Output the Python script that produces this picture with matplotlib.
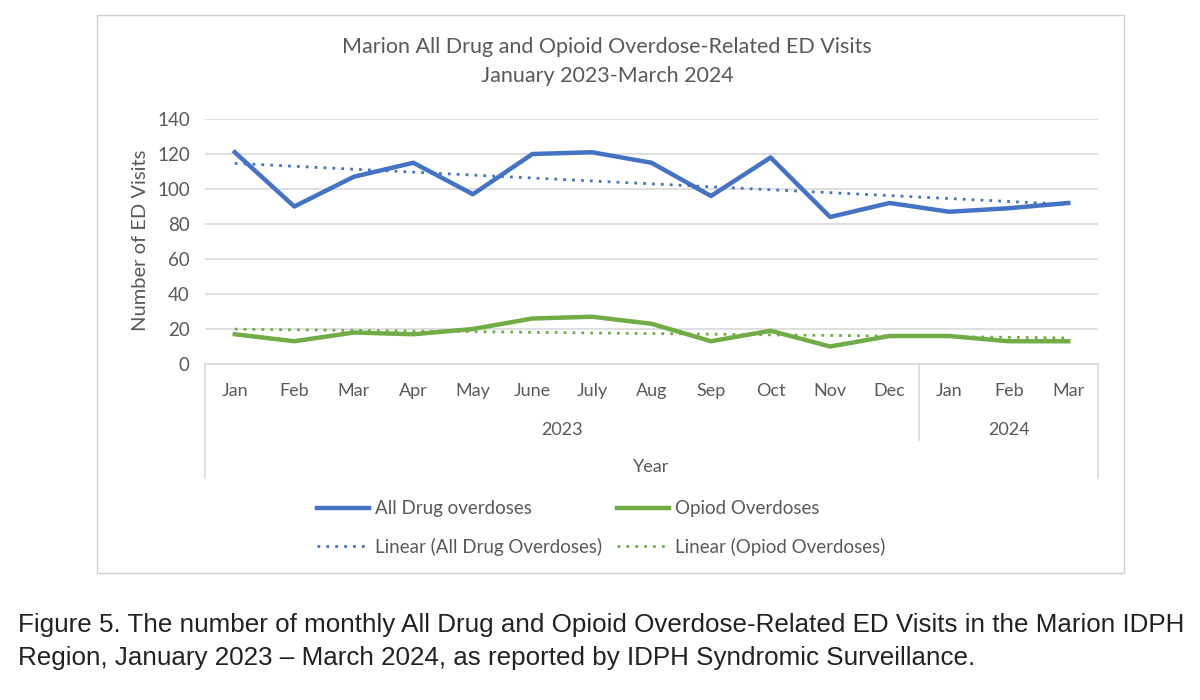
import matplotlib
matplotlib.use("Agg")
import matplotlib.pyplot as plt
from matplotlib.lines import Line2D
from matplotlib.patches import Rectangle
import numpy as np

months = ["Jan", "Feb", "Mar", "Apr", "May", "June", "July", "Aug", "Sep",
          "Oct", "Nov", "Dec", "Jan", "Feb", "Mar"]
years = ["2023", "2024"]
year_counts = [12, 3]
all_drug = [121, 90, 107, 115, 97, 120, 121, 115, 96, 118, 84, 92, 87, 89, 92]
opioid = [17, 13, 18, 17, 20, 26, 27, 23, 13, 19, 10, 16, 16, 13, 13]
yticks = [0, 20, 40, 60, 80, 100, 120, 140]

W, H = 1200, 700
fig = plt.figure(figsize=(12, 7), dpi=100)
fig.patch.set_facecolor("white")

def fx(px):
    return px / W

def fy(py):
    return 1 - py / H

grey = "#595959"
font = "Lato"
blue = "#4472C4"
green = "#70AD47"

# outer chart border
fig.add_artist(Rectangle((fx(97), fy(573)), fx(1124) - fx(97), fy(15) - fy(573),
                         transform=fig.transFigure, fill=False, edgecolor="#D0D0D0", lw=1))

L, R, T, B = 205, 1098, 119, 364
ax = fig.add_axes([fx(L), fy(B), fx(R) - fx(L), fy(T) - fy(B)])
x = np.arange(len(months))
ax.set_xlim(-0.5, len(months) - 0.5)
ax.set_ylim(0, 140)
ax.set_yticks(yticks)
ax.set_yticklabels([str(v) for v in yticks], fontsize=13.5, color=grey, family=font)
ax.tick_params(axis="y", length=0, pad=11)
ax.set_xticks([])
for s in ["top", "right", "left"]:
    ax.spines[s].set_visible(False)
ax.spines["bottom"].set_color("#D9D9D9")
ax.spines["bottom"].set_linewidth(1.2)
ax.grid(axis="y", color="#D9D9D9", lw=1.2)
ax.set_axisbelow(True)

# trend lines
ta = np.polyval(np.polyfit(x, all_drug, 1), x)
to = np.polyval(np.polyfit(x, opioid, 1), x)
ax.plot(x, all_drug, color=blue, lw=3.2, zorder=3)
ax.plot(x, opioid, color=green, lw=3.2, zorder=3)
ax.plot(x, ta, color=blue, lw=2, linestyle=(0, (1, 2.2)), zorder=4)
ax.plot(x, to, color=green, lw=2, linestyle=(0, (1, 2.2)), zorder=4)

fig.text(fx(140), fy(240), "Number of ED Visits", rotation=90, ha="center", va="center",
         fontsize=14.5, color=grey, family=font)

# category axis (multi-level)
step = (R - L) / len(months)
for i, m in enumerate(months):
    fig.text(fx(L + step * (i + 0.5)), fy(391), m, ha="center", va="center",
             fontsize=13, color=grey, family=font)
start = 0
for yr, cnt in zip(years, year_counts):
    cx = L + step * (start + cnt / 2)
    fig.text(fx(cx), fy(430), yr, ha="center", va="center", fontsize=13,
             color=grey, family=font)
    start += cnt
sep_x = L + step * year_counts[0]
lc = "#D9D9D9"
fig.add_artist(Line2D([fx(L), fx(L)], [fy(B), fy(478)], transform=fig.transFigure, color=lc, lw=1.2))
fig.add_artist(Line2D([fx(R), fx(R)], [fy(B), fy(478)], transform=fig.transFigure, color=lc, lw=1.2))
fig.add_artist(Line2D([fx(sep_x), fx(sep_x)], [fy(B), fy(440)], transform=fig.transFigure, color=lc, lw=1.2))
fig.text(fx((L + R) / 2), fy(467), "Year", ha="center", va="center", fontsize=13,
         color=grey, family=font)

# title
fig.text(fx(607), fy(47), "Marion All Drug and Opioid Overdose-Related ED Visits",
         ha="center", va="center", fontsize=15.5, color=grey, family=font)
fig.text(fx(607), fy(76), "January 2023-March 2024",
         ha="center", va="center", fontsize=15.5, color=grey, family=font)

# legend
handles = [
    Line2D([], [], color=blue, lw=3.2),
    Line2D([], [], color=blue, lw=2, linestyle=(0, (1, 2.2))),
    Line2D([], [], color=green, lw=3.2),
    Line2D([], [], color=green, lw=2, linestyle=(0, (1, 2.2))),
]
labels = ["All Drug overdoses", "Linear (All Drug Overdoses)",
          "Opiod Overdoses", "Linear (Opiod Overdoses)"]
leg = fig.legend(handles, labels, ncol=2, loc="center", bbox_to_anchor=(fx(601), fy(528)),
                 frameon=False, handlelength=2.8, handletextpad=0.3, columnspacing=0.8,
                 labelspacing=1.1, prop={"family": font, "size": 13.5})
for t in leg.get_texts():
    t.set_color(grey)

# caption
fig.text(fx(18), fy(625), "Figure 5. The number of monthly All Drug and Opioid Overdose-Related ED Visits in the Marion IDPH",
         ha="left", va="center", fontsize=18.7, color="#222222", family="Liberation Sans")
fig.text(fx(18), fy(658), "Region, January 2023 \u2013 March 2024, as reported by IDPH Syndromic Surveillance.",
         ha="left", va="center", fontsize=18.7, color="#222222", family="Liberation Sans")

fig.savefig("out.png", dpi=100, facecolor="white")
